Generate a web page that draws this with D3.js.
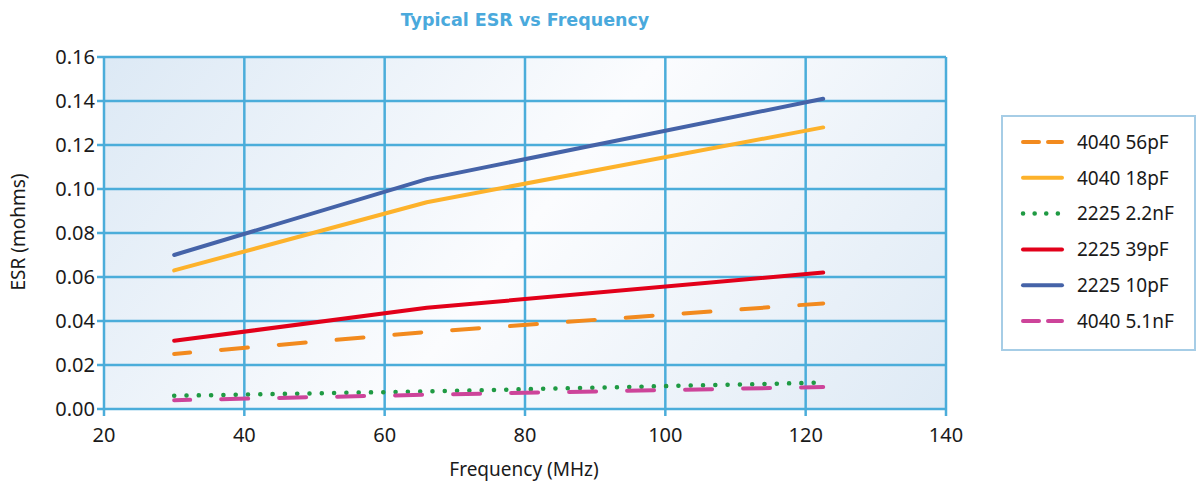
<!DOCTYPE html>
<html><head><meta charset="utf-8">
<script src="https://cdn.jsdelivr.net/npm/d3@7/dist/d3.min.js"></script>
<style>body{margin:0;background:#fff;} svg{display:block;}</style>
</head><body><svg id="c" width="1198" height="482"></svg>
<script>
const freqs = [30, 66, 122.5];
const seriesNames = ["4040 56pF","4040 18pF","2225 2.2nF","2225 39pF","2225 10pF","4040 5.1nF"];
const s4040_56pF = [0.025, 0.035, 0.048];
const s4040_18pF = [0.063, 0.094, 0.128];
const s2225_2_2nF = [0.006, 0.008, 0.012];
const s2225_39pF = [0.031, 0.046, 0.062];
const s2225_10pF = [0.070, 0.1045, 0.141];
const s4040_5_1nF = [0.004, 0.0065, 0.010];
const xTicks = [20,40,60,80,100,120,140];
const yTicks = [0,0.02,0.04,0.06,0.08,0.10,0.12,0.14,0.16];

const seriesValues = [s4040_56pF, s4040_18pF, s2225_2_2nF, s2225_39pF, s2225_10pF, s4040_5_1nF];
const styles = [
  {color:"#f28a1e", dash:"27,31", off:11},
  {color:"#fdb22b", dash:null},
  {color:"#1f9a43", dash:"0.1,12.2", off:0},
  {color:"#e2001a", dash:null},
  {color:"#4563a8", dash:null},
  {color:"#cd449a", dash:"27,31", off:11}
];

const svg = d3.select("#c");
const L=104, R=946, T=57, B=409;
const x = d3.scaleLinear().domain([20,140]).range([L,R]);
const y = d3.scaleLinear().domain([0,0.16]).range([B,T]);

const defs = svg.append("defs");
const g = defs.append("linearGradient").attr("id","bg").attr("gradientUnits","userSpaceOnUse")
  .attr("x1",L).attr("y1",T-150).attr("x2",R).attr("y2",B+150);
g.append("stop").attr("offset","0").attr("stop-color","#d6e5f3");
g.append("stop").attr("offset","0.5").attr("stop-color","#fbfcfe");
g.append("stop").attr("offset","1").attr("stop-color","#d8e6f3");

svg.append("rect").attr("x",L).attr("y",T).attr("width",R-L).attr("height",B-T).attr("fill","url(#bg)");

const gridCol = "#4badda";
svg.append("g").selectAll("line").data(yTicks).join("line")
  .attr("x1",L-7).attr("x2",R).attr("y1",d=>y(d)).attr("y2",d=>y(d))
  .attr("stroke",gridCol).attr("stroke-width",2.5);
svg.append("g").selectAll("line").data(xTicks).join("line")
  .attr("y1",T).attr("y2",B+7).attr("x1",d=>x(d)).attr("x2",d=>x(d))
  .attr("stroke",gridCol).attr("stroke-width",2.5);

const font = "'Noto Sans', sans-serif";
svg.append("g").selectAll("text").data(yTicks).join("text")
  .attr("x",L-9).attr("y",d=>y(d)).attr("dy","0.36em").attr("text-anchor","end")
  .attr("font-family",font).attr("font-size",20).attr("fill","#1a1a1a")
  .text(d=>d3.format(".2f")(d));
svg.append("g").selectAll("text").data(xTicks).join("text")
  .attr("x",d=>x(d)).attr("y",442).attr("text-anchor","middle")
  .attr("font-family",font).attr("font-size",20).attr("fill","#1a1a1a")
  .text(d=>d);

svg.append("text").attr("x",525).attr("y",26).attr("text-anchor","middle")
  .attr("font-family","'DejaVu Sans', sans-serif").attr("font-weight","bold").attr("font-size",17.5)
  .attr("fill","#4aa9dc").text("Typical ESR vs Frequency");
svg.append("text").attr("x",524).attr("y",476).attr("text-anchor","middle")
  .attr("font-family",font).attr("font-size",19).attr("fill","#1a1a1a").text("Frequency (MHz)");
svg.append("text").attr("transform","translate(25,232) rotate(-90)").attr("text-anchor","middle")
  .attr("font-family",font).attr("font-size",19).attr("fill","#1a1a1a").text("ESR (mohms)");

const line = d3.line().x(d=>x(d[0])).y(d=>y(d[1]));
seriesValues.forEach((vals,i)=>{
  const st = styles[i];
  const p = svg.append("path").datum(freqs.map((f,j)=>[f,vals[j]]))
    .attr("d",line).attr("fill","none").attr("stroke",st.color)
    .attr("stroke-width", i===2?4.5:4).attr("stroke-linecap","round").attr("stroke-linejoin","round");
  if (st.dash) p.attr("stroke-dasharray",st.dash).attr("stroke-dashoffset",st.off);
});

svg.append("rect").attr("x",1002).attr("y",116).attr("width",193).attr("height",234)
  .attr("fill","#fff").attr("stroke","#a6cde6").attr("stroke-width",2);
const lg = svg.append("g").selectAll("g").data(seriesNames).join("g")
  .attr("transform",(d,i)=>`translate(0,${142+i*35.8})`);
lg.append("line").attr("x1",1023).attr("x2",1062).attr("y1",0).attr("y2",0)
  .attr("stroke",(d,i)=>styles[i].color).attr("stroke-width",(d,i)=>i===2?4.5:4).attr("stroke-linecap","round")
  .attr("stroke-dasharray",(d,i)=>i===2?"0.1,11.5":(styles[i].dash?"16,9":null));
lg.append("text").attr("x",1077).attr("y",0).attr("dy","0.36em")
  .attr("font-family",font).attr("font-size",19).attr("fill","#1a1a1a").text(d=>d);
</script></body></html>
